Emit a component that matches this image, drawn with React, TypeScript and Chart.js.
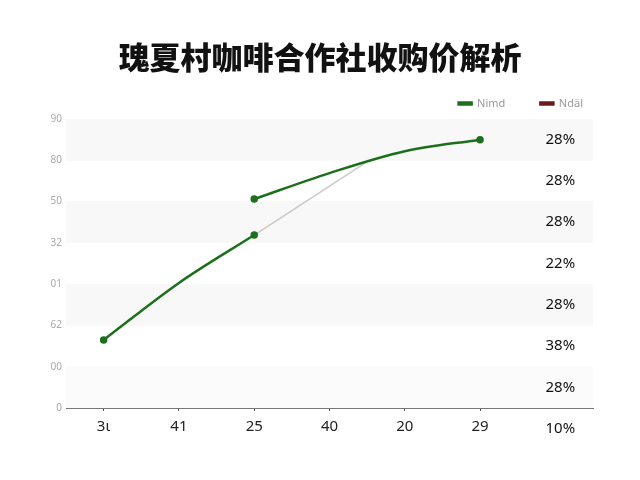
import { useEffect, useRef } from 'react'
import { Chart, registerables } from 'chart.js'

Chart.register(...registerables)

const TITLE = '瑰夏村咖啡合作社收购价解析'

// x categories (tick labels as drawn)
const xLabels = ['3ι', '41', '25', '40', '20', '29']
// y tick labels, bottom to top
const yLabels = ['0', '00', '62', '01', '32', '50', '80', '90']
// column of values on the right, top to bottom
const sideLabels = ['28%', '28%', '28%', '22%', '28%', '38%', '28%', '10%']

// first green run (idx 0..2)
const nimdX = [0, 1, 2]
const nimdY = [16.5, 30.3, 41.9]
// second green run (idx 2..5)
const upperX = [2, 3, 4, 5]
const upperY = [50.6, 56.9, 62.2, 65.0]
// grey connector
const greyX = [2, 3.47]
const greyY = [41.9, 59.3]

const GREEN = '#1d6f1d'
const DARK_RED = '#6a1b1b'

const toPts = (xs: number[], ys: number[]) => xs.map((x, i) => ({ x, y: ys[i] }))

const bandsPlugin = {
  id: 'bands',
  beforeDatasetsDraw(chart: any) {
    const { ctx, chartArea, scales } = chart
    const y = scales.y
    ctx.save()
    for (let v = 70; v > 0; v -= 10) {
      const idx = (70 - v) / 10
      if (idx % 2 !== 0) continue
      ctx.fillStyle = v === 10 ? '#fbfbfb' : '#f8f8f8'
      const top = y.getPixelForValue(v)
      const bot = y.getPixelForValue(v - 10)
      ctx.fillRect(chartArea.left, top, chartArea.right - chartArea.left, bot - top)
    }
    ctx.restore()
  },
}

const sidePlugin = {
  id: 'sideLabels',
  afterDatasetsDraw(chart: any) {
    const { ctx, scales } = chart
    const x = scales.x.getPixelForValue(6) + 5
    ctx.save()
    ctx.font = '15px "Noto Sans", sans-serif'
    ctx.fillStyle = '#111'
    ctx.textAlign = 'center'
    ctx.textBaseline = 'middle'
    sideLabels.forEach((t, i) => {
      ctx.fillText(t, x, scales.y.getPixelForValue(65 - i * 10))
    })
    ctx.restore()
  },
}

export default function App() {
  const canvasRef = useRef<HTMLCanvasElement>(null)

  useEffect(() => {
    document.body.style.margin = '0'
    if (!canvasRef.current) return
    const chart = new Chart(canvasRef.current, {
      type: 'line',
      data: {
        datasets: [
          {
            label: 'Nimd',
            data: toPts(nimdX, nimdY),
            borderColor: GREEN, backgroundColor: GREEN, borderWidth: 2.5,
            pointRadius: [2.5, 0, 2.5], pointBackgroundColor: GREEN,
            cubicInterpolationMode: 'monotone',
          },
          {
            label: 'Ndäl',
            data: [],
            borderColor: DARK_RED, backgroundColor: DARK_RED, borderWidth: 2.5,
          },
          {
            label: 'upper',
            data: toPts(upperX, upperY),
            borderColor: GREEN, backgroundColor: GREEN, borderWidth: 2.5,
            pointRadius: [2.5, 0, 0, 2.5], pointBackgroundColor: GREEN,
            cubicInterpolationMode: 'monotone',
          },
          {
            label: 'grey',
            data: toPts(greyX, greyY),
            borderColor: '#c9c9c9', borderWidth: 1.5, pointRadius: 0,
          },
        ],
      },
      options: {
        responsive: true, maintainAspectRatio: false, animation: false,
        layout: { padding: { top: 63, right: 22, bottom: 0, left: 0 } },
        plugins: {
          title: { display: false },
          tooltip: { enabled: false },
          legend: {
            position: 'top', align: 'end',
            labels: {
              filter: (item: any) => item.datasetIndex < 2,
              boxWidth: 13, boxHeight: 2, padding: 35,
              color: '#999', font: { size: 11, family: '"Noto Sans", sans-serif' },
            },
          },
        },
        scales: {
          x: {
            type: 'linear', min: -0.5, max: 6.5,
            afterBuildTicks: (axis: any) => { axis.ticks = xLabels.map((_, i) => ({ value: i })) },
            afterFit: (axis: any) => { axis.height = 72 },
            ticks: {
              callback: (v: any) => xLabels[v] ?? '',
              color: '#222', padding: 7, maxRotation: 0, autoSkip: false,
              font: { size: 15, family: '"Noto Sans", sans-serif' },
            },
            grid: { display: true, drawOnChartArea: false, drawTicks: true, tickLength: 3, color: '#555' },
            border: { display: true, color: '#777', width: 1 },
          },
          y: {
            min: 0, max: 70,
            afterFit: (axis: any) => { axis.width = 66 },
            ticks: {
              stepSize: 10,
              callback: (_v: any, i: number) => yLabels[i],
              color: '#aaa', padding: 4,
              font: { size: 10, family: '"Noto Sans", sans-serif' },
            },
            grid: { color: 'rgba(0,0,0,0.025)', drawTicks: false },
            border: { display: false },
          },
          yR: {
            type: 'linear', position: 'right', display: true,
            afterFit: (axis: any) => { axis.width = 25 },
            ticks: { display: false },
            grid: { display: false },
            border: { display: false },
          },
        },
      },
      plugins: [bandsPlugin, sidePlugin],
    })
    return () => chart.destroy()
  }, [])

  return (
    <div style={{ position: 'relative', width: 640, height: 480, background: '#fff' }}>
      <canvas ref={canvasRef} />
      <div style={{
        position: 'absolute', top: 38, left: 0, width: 640, textAlign: 'center',
        font: '900 31px/36px "Noto Sans CJK SC", sans-serif', color: '#111',
        pointerEvents: 'none',
      }}>{TITLE}</div>
    </div>
  )
}
